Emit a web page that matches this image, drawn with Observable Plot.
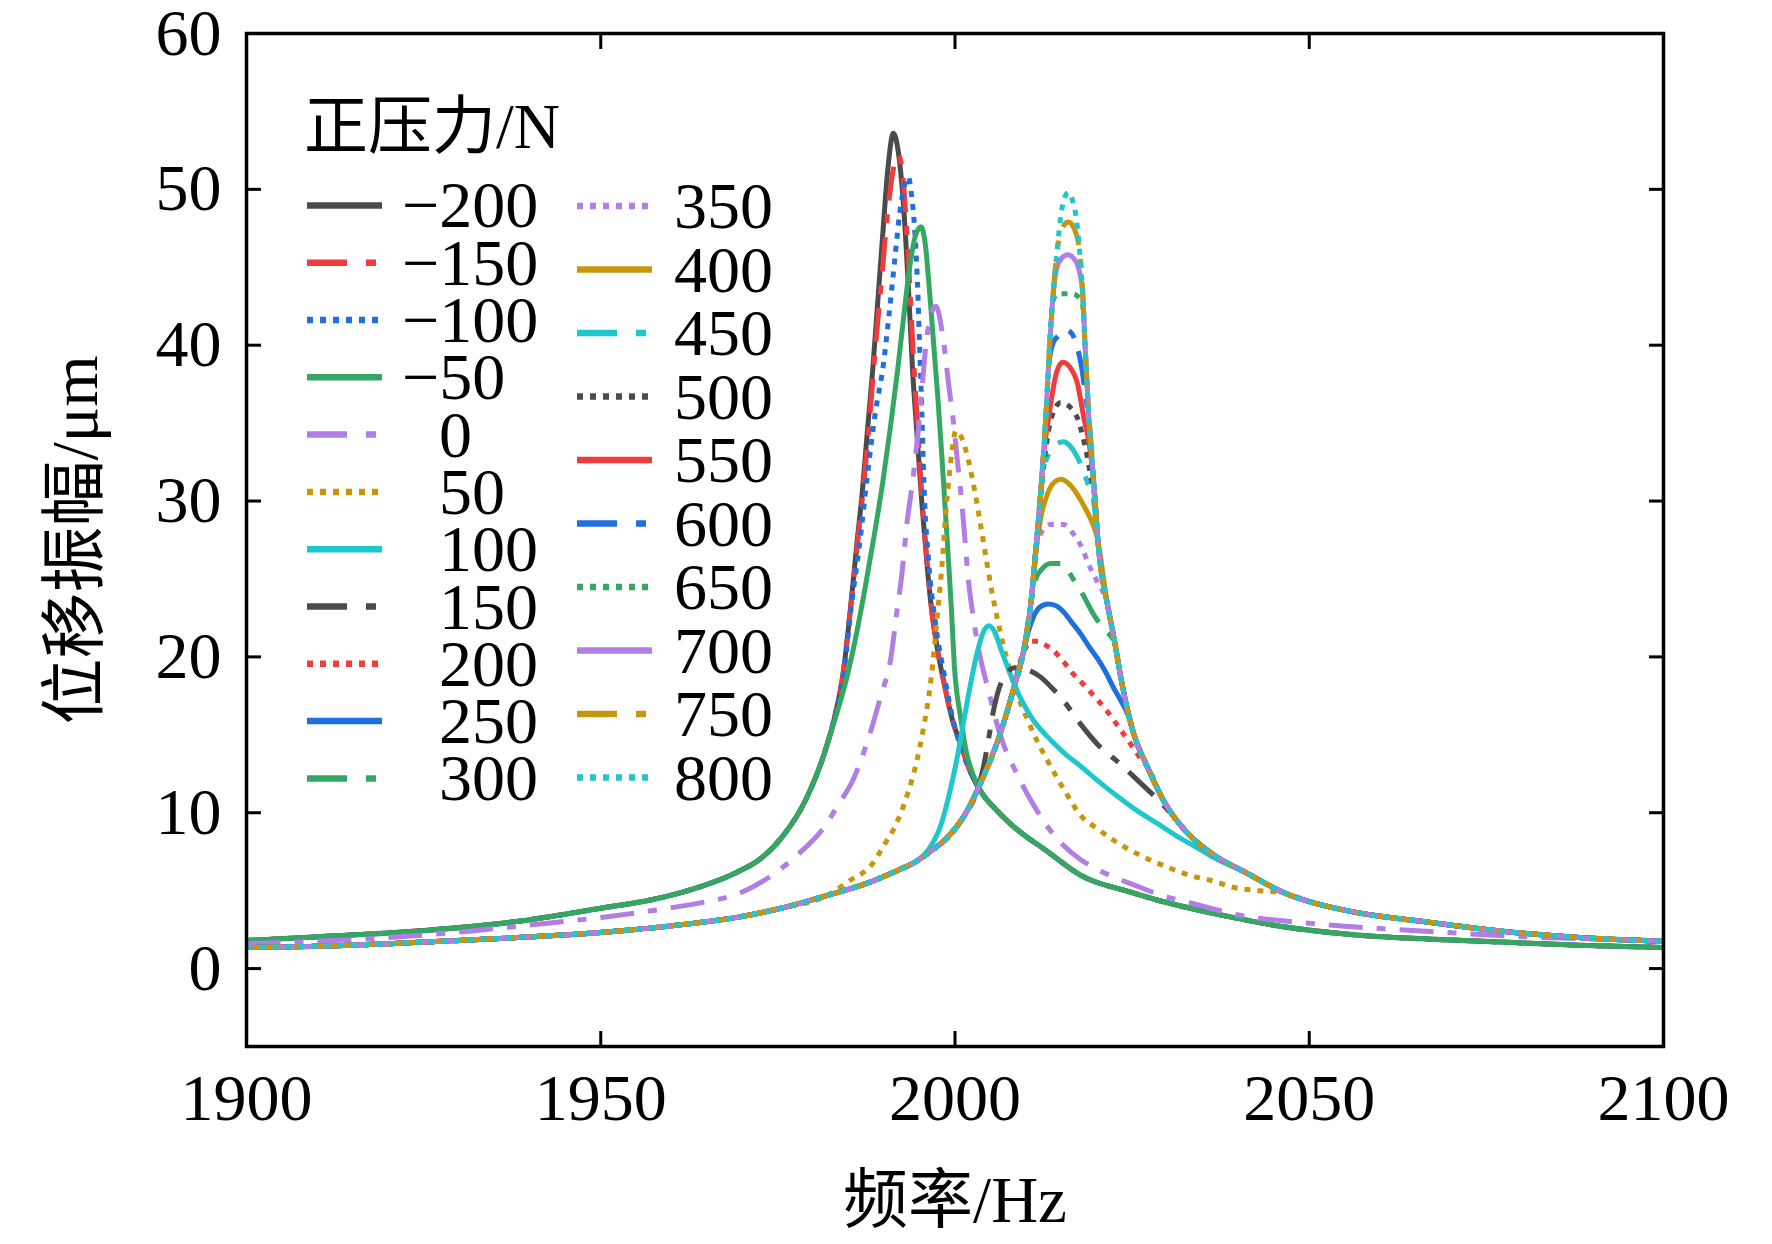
<!DOCTYPE html>
<html>
<head>
<meta charset="utf-8">
<script src="https://cdn.jsdelivr.net/npm/d3@7"></script>
<script src="https://cdn.jsdelivr.net/npm/@observablehq/plot@0.6"></script>
<style>
  html, body { margin: 0; padding: 0; background: #fff; }
</style>
</head>
<body>
<div id="chart"></div>
<script>
// ---------------- data ----------------
const forces = [-200,-150,-100,-50,0,50,100,150,200,250,300,350,400,450,500,550,600,650,700,750,800];
const xTicks = [1900,1950,2000,2050,2100];
const yTicks = [0,10,20,30,40,50,60];
const xLabel = "频率/Hz";
const yLabel = "位移振幅/μm";
const legendTitle = "正压力/N";

// shared low-amplitude tails of the "free" (left) resonance
const freeTailL = [[1900,1.8],[1912.6,2.1],[1925.2,2.45],[1937.8,3.0],[1950.4,3.9],[1957.0,4.4],[1963.0,5.1],[1969.3,6.2],[1972.4,7.0],[1975.7,8.5],[1978.9,10.8],[1981.4,13.6]];
const freeTailR = [[2003.6,11.4],[2006.0,10.1],[2008.3,9.1],[2013.1,7.5],[2017.7,6.0],[2024.8,4.9],[2028.5,4.4],[2032.0,4.0],[2039.0,3.3],[2044.8,2.8],[2055.5,2.2],[2071.8,1.8],[2088.0,1.5],[2100,1.35]];
// shared tails of the "stuck" (right) resonance
const stuckL1 = [[1900,1.35],[1912.6,1.47],[1925.2,1.7],[1937.8,1.98],[1950.4,2.33],[1963.0,2.9],[1969.4,3.3],[1975.7,3.9],[1982.0,4.7]];
const stuckL2 = [[1988.3,5.6],[1991.4,6.2],[1994.6,6.9]];
const stuckL3 = [[1996.8,7.6],[1998.9,8.4],[2001.3,9.8],[2003.6,11.9]];
const stuckR2 = [[2032.8,8.7],[2036.5,7.3],[2041.3,6.1]];
const stuckR1 = [[2046.5,4.85],[2050.0,4.3],[2055.5,3.7],[2066.4,3.0],[2077.2,2.4],[2088.0,2.0],[2100,1.75]];

const sM200 = [...freeTailL,[1983.2,16.5],[1984.2,18.9],[1985.2,22.9],[1986.2,27.5],[1986.9,30.5],[1987.6,34.3],[1988.4,38.5],[1989.1,42.8],[1989.8,47.1],[1990.5,51.2],[1991.3,53.6],[1992.0,52.4],[1992.7,49.2],[1993.4,43.9],[1994.0,38.5],[1994.6,34.5],[1995.3,30.0],[1996.0,26.2],[1996.7,23.0],[1997.6,20.3],[1998.6,18.0],[1999.6,16.0],[2000.8,14.4],[2002.2,12.6],...freeTailR];
const sM150 = [...freeTailL,[1983.2,16.5],[1984.2,18.9],[1985.2,22.9],[1986.3,27.5],[1987.1,31.0],[1987.9,35.0],[1988.7,39.5],[1989.6,44.0],[1990.5,48.5],[1991.3,51.3],[1992.0,52.2],[1992.6,51.0],[1993.1,48.0],[1993.6,44.0],[1994.1,39.5],[1994.7,35.0],[1995.3,30.5],[1996.0,26.4],[1996.7,23.1],[1997.6,20.3],[1998.6,18.0],[1999.6,16.0],[2000.8,14.4],[2002.2,12.6],...freeTailR];
const sM100 = [...freeTailL,[1983.2,16.5],[1984.3,18.9],[1985.3,23.0],[1986.6,27.5],[1987.6,31.5],[1988.7,35.5],[1989.9,38.8],[1990.7,42.0],[1991.5,45.5],[1992.2,48.5],[1992.9,50.3],[1993.4,50.8],[1993.9,49.5],[1994.3,47.5],[1994.7,44.0],[1995.0,40.0],[1995.3,36.0],[1995.6,31.3],[1996.3,26.0],[1997.2,22.3],[1998.5,18.8],[1999.6,16.2],[2000.6,14.5],[2002.2,12.6],...freeTailR];
const sM50 = [...freeTailL,[1983.2,16.2],[1984.8,18.8],[1986.1,21.5],[1987.3,24.4],[1988.6,27.8],[1989.8,31.2],[1990.9,34.8],[1991.9,38.4],[1992.8,42.0],[1993.6,45.0],[1994.4,47.0],[1995.2,47.6],[1995.8,46.5],[1996.4,43.5],[1997.0,40.0],[1997.6,36.5],[1998.2,32.5],[1998.9,27.5],[1999.5,23.0],[1999.9,19.5],[2000.8,16.1],[2001.6,13.9],[2002.6,12.4],...freeTailR];
const s0 = [[1900,1.6],[1912.6,1.8],[1925.0,2.15],[1931.5,2.4],[1940.0,2.8],[1950.4,3.3],[1959.9,3.9],[1965.0,4.3],[1969.4,4.8],[1975.7,6.5],[1978.5,7.6],[1981.4,9.0],[1983.5,10.5],[1985.7,12.2],[1987.8,14.8],[1989.6,17.6],[1990.9,19.8],[1991.8,22.9],[1992.5,25.3],[1993.2,28.5],[1994.0,31.2],[1994.8,34.5],[1995.3,37.0],[1995.9,40.0],[1996.5,41.8],[1997.3,42.5],[1998.3,40.5],[1999.1,37.5],[1999.8,35.0],[2000.4,32.3],[2001.0,29.7],[2001.5,27.0],[2001.9,24.9],[2002.5,22.8],[2003.2,20.8],[2003.9,19.3],[2004.7,17.9],[2005.8,15.9],[2007.0,14.2],[2008.2,13.0],[2010.7,10.8],[2013.9,8.6],[2017.7,7.0],[2020.4,6.3],[2026.2,5.2],[2028.5,4.8],[2034.2,4.1],[2039.3,3.5],[2050.2,2.9],[2066.4,2.4],[2082.6,2.0],[2100,1.8]];
const s50 = [...stuckL1,[1985.0,5.6],[1988.3,6.7],[1990.1,8.0],[1991.4,9.0],[1993.3,11.2],[1994.6,13.3],[1995.5,15.3],[1996.6,18.5],[1997.5,22.6],[1998.2,26.1],[1998.7,29.2],[1999.2,31.7],[1999.6,33.3],[2000.1,34.5],[2001.0,34.0],[2001.9,32.6],[2002.8,30.6],[2003.6,28.5],[2004.4,26.3],[2005.2,24.2],[2006.0,22.4],[2006.8,20.8],[2007.7,19.2],[2008.7,17.7],[2010.2,16.0],[2011.6,14.6],[2013.1,13.3],[2015.5,11.4],[2017.8,9.8],[2020.0,9.0],[2022.5,8.2],[2026.0,7.3],[2029.5,6.6],[2033.0,6.0],[2036.6,5.6],[2039.4,5.2],[2043.0,5.0],...stuckR1];
const s100 = [...stuckL1,...stuckL2,[1996.5,7.8],[1998.0,9.2],[1999.3,11.4],[2000.5,14.0],[2001.2,15.8],[2002.0,17.8],[2003.2,20.4],[2004.0,21.6],[2004.8,22.0],[2005.6,21.6],[2006.4,20.6],[2007.8,18.9],[2009.3,17.3],[2011.1,15.9],[2013.0,14.9],[2015.5,13.8],[2017.7,13.0],[2020.3,12.0],[2023.1,11.0],[2025.8,10.1],[2028.6,9.3],[2031.3,8.5],[2034.0,7.8],[2036.6,7.1],[2041.3,6.1],...stuckR1];
const s150 = [...stuckL1,...stuckL2,[1996.8,7.6],[1998.9,8.4],[2001.3,9.8],[2003.2,11.5],[2004.0,12.9],[2004.8,14.9],[2005.5,16.7],[2006.9,18.7],[2008.5,19.3],[2010.0,19.2],[2012.1,18.7],[2013.7,18.0],[2015.3,17.2],[2017.7,15.7],[2020.1,14.4],[2023.4,13.1],[2026.2,11.9],[2029.2,10.6],...stuckR2,...stuckR1];
const s200 = [...stuckL1,...stuckL2,...stuckL3,[2006.4,15.1],[2008.3,18.0],[2009.2,19.7],[2010.0,20.6],[2010.8,21.0],[2011.7,21.0],[2012.6,20.8],[2013.9,20.4],[2015.3,19.7],[2016.7,18.9],[2018.2,18.2],[2019.6,17.5],[2021.5,16.5],[2023.4,15.3],[2024.8,14.4],[2026.0,13.6],[2027.2,12.9],[2029.4,10.8],...stuckR2,...stuckR1];
const s250 = [...stuckL1,...stuckL2,...stuckL3,[2006.4,15.1],[2008.3,18.0],[2009.7,20.4],[2010.4,21.7],[2011.1,22.6],[2012.0,23.2],[2013.1,23.4],[2014.2,23.3],[2015.3,22.9],[2016.5,22.2],[2017.7,21.5],[2019.0,20.6],[2020.1,19.9],[2021.3,19.0],[2022.4,18.0],[2023.4,17.2],[2024.4,16.3],[2025.2,15.1],[2027.2,12.9],[2029.4,10.8],...stuckR2,...stuckR1];
const s300 = [...stuckL1,...stuckL2,...stuckL3,[2006.4,15.1],[2008.3,18.0],[2009.7,20.4],[2010.7,23.4],[2011.4,25.0],[2012.2,25.6],[2013.5,26.0],[2014.9,26.0],[2016.0,25.5],[2016.8,24.9],[2017.8,24.2],[2019.6,22.7],[2021.0,21.8],[2022.4,21.0],[2023.4,18.7],[2024.3,16.7],[2025.2,15.1],[2027.2,12.9],[2029.4,10.8],...stuckR2,...stuckR1];
const s350 = [...stuckL1,...stuckL2,...stuckL3,[2006.4,15.1],[2008.3,18.0],[2009.7,20.4],[2010.7,23.4],[2011.4,26.8],[2012.2,28.0],[2013.5,28.5],[2015.3,28.5],[2016.7,27.9],[2017.7,27.2],[2019.1,25.7],[2020.1,24.8],[2021.5,23.4],[2022.4,21.3],[2023.4,18.7],[2024.3,16.7],[2025.2,15.1],[2027.2,12.9],[2029.4,10.8],...stuckR2,...stuckR1];
const s400 = [...stuckL1,...stuckL2,...stuckL3,[2006.4,15.1],[2008.3,18.0],[2009.7,20.4],[2010.7,23.4],[2011.4,26.8],[2012.1,28.9],[2013.0,30.4],[2014.0,31.2],[2015.0,31.4],[2016.1,31.1],[2017.3,30.4],[2018.3,29.6],[2019.1,28.9],[2020.1,27.6],[2021.5,23.4],[2022.4,21.3],[2023.4,18.7],[2024.3,16.7],[2025.2,15.1],[2027.2,12.9],[2029.4,10.8],...stuckR2,...stuckR1];
const s450 = [...stuckL1,...stuckL2,...stuckL3,[2006.4,15.1],[2008.3,18.0],[2009.7,20.4],[2010.7,23.4],[2011.4,26.8],[2012.0,30.0],[2012.6,32.2],[2013.5,33.2],[2014.5,33.7],[2015.3,33.8],[2016.3,33.5],[2017.7,32.4],[2018.7,31.2],[2019.5,30.2],[2020.3,26.8],[2021.5,23.4],[2022.4,21.3],[2023.4,18.7],[2024.3,16.7],[2025.2,15.1],[2027.2,12.9],[2029.4,10.8],...stuckR2,...stuckR1];
const s500 = [...stuckL1,...stuckL2,...stuckL3,[2006.4,15.1],[2008.3,18.0],[2009.7,20.4],[2010.7,23.4],[2011.4,26.8],[2012.0,30.0],[2012.6,32.6],[2013.2,34.5],[2013.8,35.6],[2014.9,36.3],[2016.3,36.0],[2017.3,35.3],[2018.0,34.2],[2018.6,33.0],[2019.2,31.5],[2019.7,30.3],[2020.3,26.8],[2021.5,23.4],[2022.4,21.3],[2023.4,18.7],[2024.3,16.7],[2025.2,15.1],[2027.2,12.9],[2029.4,10.8],...stuckR2,...stuckR1];
const s550 = [...stuckL1,...stuckL2,...stuckL3,[2006.4,15.1],[2008.3,18.0],[2009.7,20.4],[2010.7,23.4],[2011.4,26.8],[2012.0,30.0],[2012.5,33.0],[2013.1,35.0],[2013.7,36.8],[2014.3,38.2],[2015.2,38.9],[2016.2,38.6],[2017.3,37.5],[2018.2,35.3],[2018.9,33.8],[2019.6,31.1],[2020.3,26.8],[2021.5,23.4],[2022.4,21.3],[2023.4,18.7],[2024.3,16.7],[2025.2,15.1],[2027.2,12.9],[2029.4,10.8],...stuckR2,...stuckR1];
const s600 = [...stuckL1,...stuckL2,...stuckL3,[2006.4,15.1],[2008.3,18.0],[2009.7,20.4],[2010.7,23.4],[2011.4,26.8],[2012.0,30.0],[2012.5,33.0],[2012.9,36.0],[2013.3,39.0],[2013.9,40.2],[2014.6,40.6],[2015.5,41.0],[2016.4,40.8],[2017.3,39.8],[2017.9,38.5],[2018.5,36.5],[2018.9,35.3],[2019.6,31.1],[2020.3,26.8],[2021.5,23.4],[2022.4,21.3],[2023.4,18.7],[2024.3,16.7],[2025.2,15.1],[2027.2,12.9],[2029.4,10.8],...stuckR2,...stuckR1];
const s650 = [...stuckL1,...stuckL2,...stuckL3,[2006.4,15.1],[2008.3,18.0],[2009.7,20.4],[2010.7,23.4],[2011.4,26.8],[2012.0,30.0],[2012.5,33.0],[2012.9,36.0],[2013.3,39.5],[2013.8,42.8],[2014.5,43.3],[2015.2,43.3],[2016.6,43.3],[2017.4,43.1],[2018.0,42.6],[2018.4,39.6],[2018.9,35.3],[2019.6,31.1],[2020.3,26.8],[2021.5,23.4],[2022.4,21.3],[2023.4,18.7],[2024.3,16.7],[2025.2,15.1],[2027.2,12.9],[2029.4,10.8],...stuckR2,...stuckR1];
const s700 = [...stuckL1,...stuckL2,...stuckL3,[2006.4,15.1],[2008.3,18.0],[2009.7,20.4],[2010.7,23.4],[2011.4,26.8],[2012.0,30.0],[2012.5,33.0],[2012.9,36.0],[2013.3,39.5],[2013.9,43.5],[2014.4,45.0],[2015.1,45.6],[2015.9,45.8],[2016.7,45.6],[2017.4,45.0],[2018.0,43.5],[2018.4,39.6],[2018.9,35.3],[2019.6,31.1],[2020.3,26.8],[2021.5,23.4],[2022.4,21.3],[2023.4,18.7],[2024.3,16.7],[2025.2,15.1],[2027.2,12.9],[2029.4,10.8],...stuckR2,...stuckR1];
const s750 = [...stuckL1,...stuckL2,...stuckL3,[2006.4,15.1],[2008.3,18.0],[2009.7,20.4],[2010.7,23.4],[2011.4,26.8],[2012.0,30.0],[2012.5,33.0],[2012.9,36.0],[2013.3,39.5],[2013.9,43.5],[2014.4,46.0],[2014.9,47.2],[2015.4,47.7],[2016.0,47.9],[2016.7,47.6],[2017.2,47.0],[2017.6,46.0],[2018.0,43.5],[2018.4,39.6],[2018.9,35.3],[2019.6,31.1],[2020.3,26.8],[2021.5,23.4],[2022.4,21.3],[2023.4,18.7],[2024.3,16.7],[2025.2,15.1],[2027.2,12.9],[2029.4,10.8],...stuckR2,...stuckR1];
const s800 = [...stuckL1,...stuckL2,...stuckL3,[2006.4,15.1],[2008.3,18.0],[2009.7,20.4],[2010.7,23.4],[2011.4,26.8],[2012.0,30.0],[2012.5,33.0],[2012.9,36.0],[2013.3,39.5],[2013.9,43.5],[2014.4,46.0],[2015.0,48.5],[2015.5,49.5],[2016.0,49.8],[2016.5,49.4],[2017.0,48.5],[2017.6,46.0],[2018.0,43.5],[2018.4,39.6],[2018.9,35.3],[2019.6,31.1],[2020.3,26.8],[2021.5,23.4],[2022.4,21.3],[2023.4,18.7],[2024.3,16.7],[2025.2,15.1],[2027.2,12.9],[2029.4,10.8],...stuckR2,...stuckR1];

const seriesPoints = [sM200,sM150,sM100,sM50,s0,s50,s100,s150,s200,s250,s300,s350,s400,s450,s500,s550,s600,s650,s700,s750,s800];

// ---------------- styles ----------------
const palette = ["#4b4b4b","#ef3d3d","#1f6fe0","#34a862","#b07ee4","#c9960b","#1fc6cc"];
const kinds = ["solid","dashdot","dotted"];
const colorOf = i => palette[i % 7];
const kindOf = i => kinds[i % 3];
const plotDash = {solid: null, dashdot: "34,14,9,14", dotted: "6,7"};
const legendDash = {solid: null, dashdot: "40,19,10,100", dotted: "6,7"};
const FONT = "'Liberation Serif','Times New Roman','Noto Sans CJK SC',serif";
const fmt = v => v < 0 ? "\u2212" + Math.abs(v) : String(v);

const table = forces.map((F, i) => seriesPoints[i].map(([f, a]) => ({F, f, a})));

const lineMarks = table.map((rows, i) => Plot.line(rows, {
  x: "f", y: "a",
  stroke: colorOf(i),
  strokeWidth: 5,
  strokeDasharray: plotDash[kindOf(i)],
  strokeLinecap: "butt",
  curve: "monotone-x",
  clip: true
}));

const plot = Plot.plot({
  width: 1772,
  height: 1244,
  marginLeft: 246,
  marginRight: 109,
  marginTop: 33,
  marginBottom: 198,
  style: {fontFamily: FONT, fontSize: "66px", color: "#000", background: "#fff"},
  x: {domain: [1900, 2100]},
  y: {domain: [-5, 60]},
  marks: [
    ...lineMarks,
    Plot.frame({stroke: "#000", strokeWidth: 3.5}),
    Plot.axisX({anchor: "bottom", ticks: xTicks, tickSize: -15, tickPadding: 42, tickFormat: d => String(d), label: null, strokeWidth: 3, fontSize: 66}),
    Plot.axisX({anchor: "top", ticks: xTicks, tickSize: -15, tickFormat: () => "", label: null, strokeWidth: 3}),
    Plot.axisY({anchor: "left", ticks: yTicks, tickSize: -15, tickPadding: 40, tickFormat: d => String(d), label: null, strokeWidth: 3, fontSize: 66}),
    Plot.axisY({anchor: "right", ticks: yTicks, tickSize: -15, tickFormat: () => "", label: null, strokeWidth: 3}),
    Plot.text([xLabel], {frameAnchor: "bottom", dy: 155, textAnchor: "middle", lineAnchor: "middle", fontSize: 65, fill: "#000"}),
    Plot.text([yLabel], {frameAnchor: "left", dx: -171, rotate: -90, textAnchor: "middle", lineAnchor: "middle", fontSize: 66, fill: "#000"})
  ]
});

document.getElementById("chart").appendChild(plot);

// ---------------- legend (inside the frame, two columns) ----------------
const svg = d3.select(plot.tagName.toLowerCase() === "svg" ? plot : plot.querySelector("svg"));
const lg = svg.append("g").attr("font-family", FONT).attr("fill", "#000").attr("text-anchor", "start");
lg.append("text").attr("x", 304).attr("y", 148).attr("font-size", 64).attr("text-anchor", "start").text(legendTitle);
forces.forEach((F, i) => {
  const col = i < 11 ? 0 : 1;
  const row = col === 0 ? i : i - 11;
  const y = col === 0 ? 205.4 + row * 57.3 : 206 + row * 63.5;
  const x0 = col === 0 ? 307 : 577;
  lg.append("line")
    .attr("x1", x0).attr("x2", x0 + 75).attr("y1", y).attr("y2", y)
    .attr("stroke", colorOf(i)).attr("stroke-width", 6.5)
    .attr("stroke-dasharray", legendDash[kindOf(i)]);
  const tx = col === 0 ? (F < 0 ? 402 : 439) : 674;
  lg.append("text").attr("x", tx).attr("y", y + 22).attr("font-size", 66).attr("text-anchor", "start").text(fmt(F));
});
</script>
</body>
</html>
